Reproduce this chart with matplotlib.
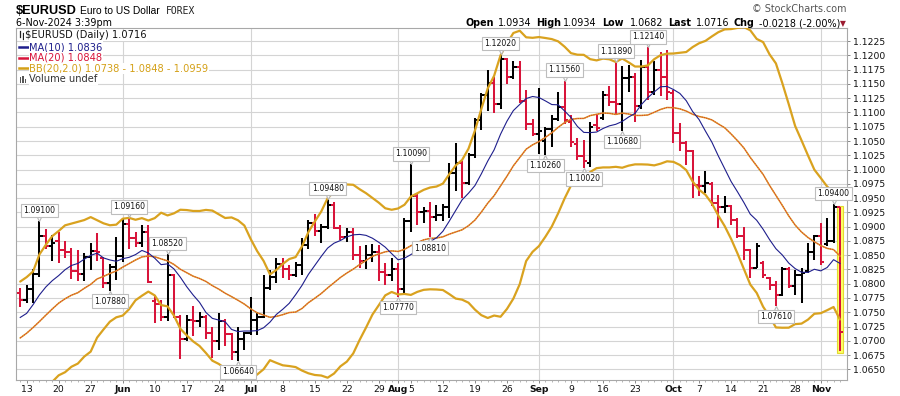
import numpy as np
import pandas as pd
import matplotlib
matplotlib.use("Agg")
import matplotlib.pyplot as plt
from matplotlib.collections import LineCollection
from matplotlib.patches import Rectangle
from matplotlib.lines import Line2D
from matplotlib.transforms import offset_copy

# ---------------- data ----------------
dates = pd.bdate_range("2024-05-10", "2024-11-06")

opens = [
    1.0783, 1.0772, 1.0790, 1.0817, 1.0884, 1.0866, 1.0874, 1.0859, 1.0856, 1.0822,
    1.0817, 1.0847, 1.0857, 1.0845, 1.0802, 1.0830, 1.0848, 1.0904, 1.0880, 1.0871,
    1.0890, 1.0770, 1.0765, 1.0742, 1.0815, 1.0741, 1.0703, 1.0737, 1.0735, 1.0742,
    1.0713, 1.0700, 1.0735, 1.0712, 1.0681, 1.0703, 1.0713, 1.0737, 1.0742, 1.0792,
    1.0812, 1.0835, 1.0826, 1.0815, 1.0832, 1.0867, 1.0906, 1.0893, 1.0900, 1.0938,
    1.0898, 1.0882, 1.0890, 1.0850, 1.0840, 1.0850, 1.0856, 1.0820, 1.0816, 1.0825,
    1.0790, 1.0910, 1.0953, 1.0925, 1.0928, 1.0917, 1.0920, 1.0935, 1.0994, 1.1012,
    1.0976, 1.1026, 1.1086, 1.1130, 1.1152, 1.1115, 1.1193, 1.1163, 1.1180, 1.1120,
    1.1079, 1.1062, 1.1050, 1.1071, 1.1088, 1.1110, 1.1083, 1.1045, 1.1024, 1.1012,
    1.1078, 1.1090, 1.1130, 1.1118, 1.1115, 1.1160, 1.1163, 1.1112, 1.1180, 1.1135,
    1.1175, 1.1163, 1.1134, 1.1064, 1.1047, 1.1032, 1.0973, 1.0972, 1.0975, 1.0942,
    1.0935, 1.0936, 1.0912, 1.0883, 1.0859, 1.0828, 1.0836, 1.0810, 1.0797, 1.0781,
    1.0825, 1.0796, 1.0815, 1.0822, 1.0856, 1.0883, 1.0870, 1.0874, 1.0934]
highs = [
    1.0792, 1.0798, 1.0825, 1.0910, 1.0895, 1.0885, 1.0891, 1.0874, 1.0862, 1.0859,
    1.0853, 1.0871, 1.0889, 1.0847, 1.0835, 1.0882, 1.0913, 1.0916, 1.0890, 1.0902,
    1.0902, 1.0780, 1.0772, 1.0852, 1.0817, 1.0745, 1.0745, 1.0761, 1.0751, 1.0745,
    1.0725, 1.0748, 1.0738, 1.0713, 1.0725, 1.0716, 1.0776, 1.0751, 1.0815, 1.0824,
    1.0845, 1.0845, 1.0833, 1.0838, 1.0880, 1.0912, 1.0922, 1.0905, 1.0948, 1.0944,
    1.0902, 1.0898, 1.0898, 1.0866, 1.0868, 1.0870, 1.0868, 1.0836, 1.0845, 1.0836,
    1.0915, 1.1009, 1.0959, 1.0935, 1.0944, 1.0938, 1.0940, 1.1012, 1.1047, 1.1015,
    1.1029, 1.1091, 1.1134, 1.1175, 1.1163, 1.1202, 1.1196, 1.1190, 1.1190, 1.1140,
    1.1088, 1.1143, 1.1074, 1.1095, 1.1136, 1.1156, 1.1095, 1.1055, 1.1052, 1.1083,
    1.1098, 1.1138, 1.1147, 1.1189, 1.1181, 1.1183, 1.1170, 1.1192, 1.1214, 1.1190,
    1.1206, 1.1209, 1.1140, 1.1082, 1.1050, 1.1035, 1.0988, 1.0997, 1.0978, 1.0956,
    1.0953, 1.0938, 1.0915, 1.0900, 1.0860, 1.0871, 1.0840, 1.0811, 1.0804, 1.0830,
    1.0830, 1.0824, 1.0827, 1.0871, 1.0886, 1.0906, 1.0915, 1.0940, 1.0934]
lows = [
    1.0759, 1.0766, 1.0767, 1.0811, 1.0860, 1.0840, 1.0836, 1.0845, 1.0809, 1.0804,
    1.0805, 1.0824, 1.0839, 1.0792, 1.0788, 1.0807, 1.0838, 1.0860, 1.0865, 1.0865,
    1.0801, 1.0732, 1.0735, 1.0734, 1.0740, 1.0668, 1.0700, 1.0708, 1.0725, 1.0704,
    1.0670, 1.0684, 1.0690, 1.0666, 1.0664, 1.0684, 1.0710, 1.0710, 1.0740, 1.0789,
    1.0801, 1.0810, 1.0806, 1.0811, 1.0815, 1.0860, 1.0883, 1.0872, 1.0895, 1.0895,
    1.0877, 1.0873, 1.0842, 1.0828, 1.0826, 1.0838, 1.0804, 1.0798, 1.0804, 1.0777,
    1.0780, 1.0890, 1.0903, 1.0906, 1.0881, 1.0909, 1.0909, 1.0915, 1.0962, 1.0950,
    1.0973, 1.1020, 1.1070, 1.1102, 1.1099, 1.1106, 1.1150, 1.1158, 1.1117, 1.1070,
    1.1058, 1.1028, 1.1026, 1.1040, 1.1085, 1.1080, 1.1040, 1.1017, 1.1002, 1.1005,
    1.1068, 1.1086, 1.1112, 1.1098, 1.1068, 1.1135, 1.1083, 1.1106, 1.1122, 1.1130,
    1.1128, 1.1122, 1.1046, 1.1032, 1.1008, 1.0950, 1.0954, 1.0959, 1.0936, 1.0898,
    1.0924, 1.0903, 1.0880, 1.0842, 1.0810, 1.0828, 1.0810, 1.0789, 1.0761, 1.0778,
    1.0792, 1.0781, 1.0766, 1.0818, 1.0842, 1.0833, 1.0866, 1.0871, 1.0682]
closes = [
    1.0772, 1.0790, 1.0817, 1.0884, 1.0866, 1.0871, 1.0859, 1.0856, 1.0823, 1.0817,
    1.0847, 1.0857, 1.0855, 1.0801, 1.0830, 1.0848, 1.0904, 1.0880, 1.0871, 1.0890,
    1.0803, 1.0765, 1.0742, 1.0815, 1.0741, 1.0703, 1.0737, 1.0735, 1.0742, 1.0713,
    1.0700, 1.0735, 1.0712, 1.0681, 1.0703, 1.0713, 1.0737, 1.0742, 1.0792, 1.0812,
    1.0835, 1.0826, 1.0815, 1.0832, 1.0867, 1.0906, 1.0893, 1.0900, 1.0938, 1.0898,
    1.0882, 1.0890, 1.0850, 1.0840, 1.0850, 1.0856, 1.0820, 1.0816, 1.0825, 1.0790,
    1.0910, 1.0953, 1.0925, 1.0928, 1.0917, 1.0920, 1.0935, 1.0994, 1.1012, 1.0976,
    1.1026, 1.1086, 1.1130, 1.1152, 1.1115, 1.1193, 1.1163, 1.1180, 1.1120, 1.1079,
    1.1062, 1.1068, 1.1071, 1.1088, 1.1110, 1.1086, 1.1048, 1.1024, 1.1015, 1.1075,
    1.1072, 1.1130, 1.1118, 1.1115, 1.1160, 1.1163, 1.1112, 1.1180, 1.1135, 1.1175,
    1.1163, 1.1135, 1.1064, 1.1047, 1.1032, 1.0973, 1.0972, 1.0977, 1.0942, 1.0935,
    1.0937, 1.0912, 1.0883, 1.0859, 1.0828, 1.0866, 1.0815, 1.0797, 1.0781, 1.0825,
    1.0796, 1.0815, 1.0819, 1.0856, 1.0883, 1.0838, 1.0874, 1.0934, 1.0716]
# closes before the visible window (needed for the 10/20-day indicators)
warmup_closes = [1.0625, 1.0619, 1.0671, 1.0644, 1.0655, 1.0655, 1.0702, 1.0697, 1.0730,
                 1.0693, 1.0719, 1.0665, 1.0712, 1.0727, 1.0761, 1.0770, 1.0753, 1.0748,
                 1.0782]

xtick_dates = ["2024-05-13", "2024-05-20", "2024-05-27", "2024-06-03", "2024-06-10",
               "2024-06-17", "2024-06-24", "2024-07-01", "2024-07-08", "2024-07-15",
               "2024-07-22", "2024-07-29", "2024-08-01", "2024-08-05", "2024-08-12",
               "2024-08-19", "2024-08-26", "2024-09-02", "2024-09-09", "2024-09-16",
               "2024-09-23", "2024-10-01", "2024-10-07", "2024-10-14", "2024-10-21",
               "2024-10-28", "2024-11-01"]
xtick_labels = ["13", "20", "27", "Jun", "10", "17", "24", "Jul", "8", "15", "22", "29",
                "Aug", "5", "12", "19", "26", "Sep", "9", "16", "23", "Oct", "7", "14",
                "21", "28", "Nov"]
month_dates = ["2024-06-03", "2024-07-01", "2024-08-01", "2024-09-02", "2024-10-01",
               "2024-11-01"]
# swing labels: (bar date, 'H' for high / 'L' for low)
swing_labels = [("2024-05-15", "H"), ("2024-05-30", "L"), ("2024-06-04", "H"),
                ("2024-06-12", "H"), ("2024-06-27", "L"), ("2024-07-17", "H"),
                ("2024-08-01", "L"), ("2024-08-05", "H"), ("2024-08-08", "L"),
                ("2024-08-23", "H"), ("2024-09-03", "L"), ("2024-09-06", "H"),
                ("2024-09-11", "L"), ("2024-09-18", "H"), ("2024-09-19", "L"),
                ("2024-09-25", "H"), ("2024-10-23", "L"), ("2024-11-05", "H")]

title_symbol = "$EURUSD"
title_name = "Euro to US Dollar"
title_exchange = "FOREX"
timestamp = "6-Nov-2024 3:39pm"
header_items = [("Open", True), ("1.0934", False), ("High", True), ("1.0934", False),
                ("Low", True), ("1.0682", False), ("Last", True), ("1.0716", False),
                ("Chg", True), ("-0.0218 (-2.00%)", False)]
legend_rows = ["$EURUSD (Daily) 1.0716", "MA(10) 1.0836", "MA(20) 1.0848",
               "BB(20,2.0) 1.0738 - 1.0848 - 1.0959", "Volume undef"]

# ---------------- computations ----------------
o = np.array(opens); h = np.array(highs); l = np.array(lows); c = np.array(closes)
n = len(c)
x = np.arange(n)
allc = pd.Series(warmup_closes + closes)
ma10 = allc.rolling(10).mean().values[-n:]
ma20 = allc.rolling(20).mean().values[-n:]
sd20 = allc.rolling(20).std(ddof=0).values[-n:]
bb_up = ma20 + 2 * sd20
bb_lo = ma20 - 2 * sd20
prev = np.r_[warmup_closes[-1], c[:-1]]
BLACK = "#000000"
RED = "#D8143A"
GOLD = "#D9A21F"
NAVY = "#1E1E8C"
bar_cols = [BLACK if c[i] >= prev[i] else RED for i in range(n)]

# ---------------- figure ----------------
W, H = 900, 396
fig = plt.figure(figsize=(W / 100, H / 100), dpi=100)
fig.patch.set_facecolor("white")
L_, R_, T_, B_ = 16, 847, 28, 380
ax = fig.add_axes([L_ / W, 1 - B_ / H, (R_ - L_) / W, (B_ - T_) / H])
ax.set_xlim(-0.66, 129.1)
ax.set_ylim(1.06313, 1.12480)

# grid
yt = np.arange(1.0650, 1.12251, 0.0025)
for v in yt:
    ax.axhline(v, color="#D4D4D4", lw=0.8, zorder=0)
loc = {d: i for i, d in enumerate(dates.strftime("%Y-%m-%d"))}
for d in month_dates:
    ax.axvline(loc[d], color="#D4D4D4", lw=0.8, zorder=0)

# highlight of last bar
pad = 0.0003
ax.add_patch(Rectangle((x[-1] - 0.5, l[-1] - pad), 1.0, h[-1] - l[-1] + 2 * pad,
                       facecolor="#FFFF66", edgecolor="#E2DA30", lw=0.8, zorder=1))

# OHLC bars
segs, cols = [], []
tk = 0.5
for i in range(n):
    segs.append([(x[i], l[i]), (x[i], h[i])]); cols.append(bar_cols[i])
    segs.append([(x[i] - tk, o[i]), (x[i], o[i])]); cols.append(bar_cols[i])
    segs.append([(x[i], c[i]), (x[i] + tk, c[i])]); cols.append(bar_cols[i])
ax.add_collection(LineCollection(segs, colors=cols, linewidths=1.45,
                                 capstyle="butt", zorder=2))

# overlays
ax.plot(x, bb_up, color=GOLD, lw=1.6, zorder=3, solid_capstyle="round")
ax.plot(x, bb_lo, color=GOLD, lw=1.6, zorder=3, solid_capstyle="round")
ax.plot(x, ma20, color=GOLD, lw=1.1, zorder=3)
ax.plot(x, ma20, color="#E0303C", lw=0.7, ls=(0, (1.2, 1.2)), zorder=3)
ax.plot(x, ma10, color=NAVY, lw=0.8, zorder=3)

# swing labels
for d, kind in swing_labels:
    i = loc[d]
    val = h[i] if kind == "H" else l[i]
    sgn = 1 if kind == "H" else -1
    mk_tr = offset_copy(ax.transData, fig=fig, x=0, y=sgn * 4.0, units="dots")
    ax.plot([x[i]], [val], marker="v" if kind == "H" else "^", ms=5.5,
            mfc="white", mec="#B8B8B8", mew=0.8, transform=mk_tr, zorder=5,
            clip_on=False)
    ax.annotate(f"{val:.5f}", xy=(x[i], val), xytext=(0, sgn * 7.6),
                textcoords="offset points", ha="center", va="center",
                fontsize=5.6, color="#111111", zorder=6,
                bbox=dict(boxstyle="square,pad=0.28", fc="white", ec="#BDBDBD", lw=0.8))

# axes styling
for s in ax.spines.values():
    s.set_color("#A8A8A8")
    s.set_linewidth(0.8)
ax.yaxis.tick_right()
ax.set_yticks(yt)
ax.set_yticklabels([f"{v:.4f}" for v in yt])
ax.tick_params(axis="y", which="major", length=2.5, width=0.7, color="#888888",
               pad=1.5, labelsize=6.7, labelcolor="#111111")
xt = [loc[d] for d in xtick_dates]
ax.set_xticks(xt)
ax.set_xticklabels(xtick_labels)
ax.set_xticks(x, minor=True)
ax.tick_params(axis="x", which="major", length=2.0, width=0.7, color="#888888",
               pad=1.5, labelsize=6.7, labelcolor="#111111")
ax.tick_params(axis="x", which="minor", length=1.2, width=0.6, color="#AAAAAA")
months = {"Jun", "Jul", "Aug", "Sep", "Oct", "Nov"}
for t in ax.get_xticklabels():
    if t.get_text() in months:
        t.set_fontweight("bold")

# ---------------- text ----------------
def P(px, py):
    return px / W, 1 - py / H

fig.text(*P(16, 13.5), title_symbol, fontsize=9.2, fontweight="bold",
         family="Liberation Sans", va="baseline")
fig.text(*P(80, 13.5), title_name, fontsize=7.4, family="Liberation Sans", va="baseline")
fig.text(*P(166, 13.5), title_exchange, fontsize=7.0, family="DejaVu Sans Mono",
         va="baseline", color="#222222")
fig.text(*P(16, 26), timestamp, fontsize=6.9, va="baseline")
fig.text(*P(847, 12.5), "\u00a9 StockCharts.com", fontsize=6.9, color="#555555",
         va="baseline", ha="right")

hx = [465, 498, 536, 563, 602, 630, 668, 696, 734, 759]
for (txt, bold), px in zip(header_items, hx):
    fig.text(*P(px, 26), txt, fontsize=6.9, fontweight="bold" if bold else "normal",
             va="baseline")
fig.text(*P(840, 26), "\u25bc", fontsize=5.5, color="#9B1B30", va="baseline")

# legend block
lb = dict(facecolor="white", edgecolor="none", pad=0.6)
fig.text(*P(25, 38.5), legend_rows[0], fontsize=7.1, va="baseline", color="#111111", bbox=lb)
# small OHLC icon
for xx, yy0, yy1 in [(19.5, 31, 37), (22.5, 32.5, 38.5)]:
    fig.add_artist(Line2D([xx / W, xx / W], [1 - yy0 / H, 1 - yy1 / H], color="#222222", lw=0.9))
legend_cols = [NAVY, "#D8143A", "#D4A017"]
for k, (ypx, col) in enumerate(zip([50, 60.8, 71.7], legend_cols)):
    fig.add_artist(Line2D([19.3 / W, 28.3 / W], [1 - (ypx - 3.3) / H] * 2, color=col, lw=1.8))
    fig.text(*P(29.3, ypx), legend_rows[k + 1], fontsize=7.1, va="baseline", color=col, bbox=lb)
for xx, hh in [(19.5, 5), (22, 7), (24.5, 4)]:
    fig.add_artist(Rectangle((xx / W, 1 - 82.5 / H), 1.8 / W, hh / H, color="#555555", lw=0))
fig.text(*P(29.3, 82.5), legend_rows[4], fontsize=7.1, va="baseline", color="#333333", bbox=lb)

fig.savefig("out.png", dpi=100, facecolor="white")
